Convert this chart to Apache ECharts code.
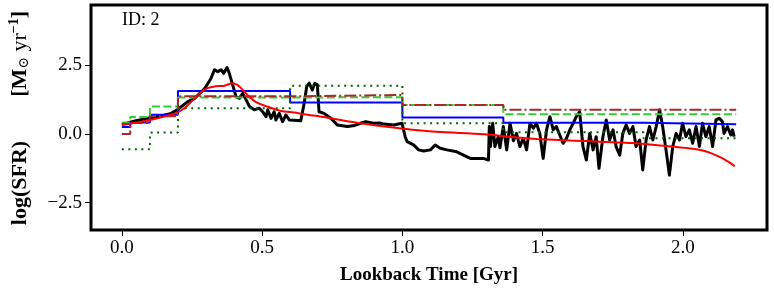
<!DOCTYPE html>
<html>
<head>
<meta charset="utf-8">
<script src="https://cdn.jsdelivr.net/npm/echarts@6/dist/echarts.min.js"></script>
<style>
html,body{margin:0;padding:0;background:#fff;}
#chart{width:774px;height:290px;}
</style>
</head>
<body>
<div id="chart"></div>
<script>
// ---- data ----
const xTicks = [0.0, 0.5, 1.0, 1.5, 2.0];
const yTicks = [-2.5, 0.0, 2.5];

// true SFH (black)
const blackT = [0, 0.05, 0.1, 0.15, 0.176, 0.2, 0.235, 0.26, 0.295, 0.318, 0.33, 0.342, 0.354, 0.363, 0.375, 0.383, 0.395, 0.407, 0.419, 0.431, 0.443, 0.455, 0.472, 0.49, 0.502, 0.514, 0.52, 0.532, 0.543, 0.549, 0.561, 0.573, 0.585, 0.597, 0.614, 0.638, 0.65, 0.659, 0.668, 0.679, 0.688, 0.697, 0.703, 0.721, 0.745, 0.768, 0.804, 0.83, 0.851, 0.869, 0.898, 0.92, 0.934, 0.969, 0.999, 1.01, 1.017, 1.04, 1.058, 1.076, 1.1, 1.117, 1.135, 1.159, 1.194, 1.218, 1.242, 1.265, 1.289, 1.307, 1.31, 1.314, 1.322, 1.33, 1.342, 1.348, 1.36, 1.372, 1.384, 1.396, 1.407, 1.419, 1.431, 1.443, 1.455, 1.467, 1.478, 1.49, 1.502, 1.514, 1.526, 1.538, 1.549, 1.561, 1.573, 1.585, 1.597, 1.609, 1.62, 1.632, 1.644, 1.656, 1.668, 1.68, 1.691, 1.701, 1.715, 1.727, 1.739, 1.751, 1.762, 1.775, 1.786, 1.798, 1.81, 1.822, 1.833, 1.846, 1.857, 1.869, 1.881, 1.893, 1.905, 1.917, 1.928, 1.94, 1.952, 1.964, 1.976, 1.988, 1.999, 2.011, 2.023, 2.035, 2.047, 2.059, 2.07, 2.082, 2.094, 2.106, 2.118, 2.13, 2.141, 2.147, 2.159, 2.171, 2.177, 2.183];
const blackV = [0.35, 0.48, 0.58, 0.68, 0.75, 0.9, 1.18, 1.3, 1.65, 2.03, 2.34, 2.27, 2.34, 2.21, 2.42, 2.21, 1.79, 1.36, 1.3, 1.48, 1.24, 1.0, 0.88, 0.94, 0.81, 0.63, 0.88, 0.57, 0.81, 0.51, 0.75, 0.45, 0.69, 0.51, 0.5, 0.48, 1.12, 1.73, 1.85, 1.6, 1.85, 1.79, 0.81, 0.75, 0.57, 0.33, 0.27, 0.31, 0.39, 0.45, 0.39, 0.4, 0.36, 0.33, 0.39, -0.1, -0.28, -0.4, -0.58, -0.62, -0.58, -0.4, -0.52, -0.58, -0.65, -0.77, -0.89, -0.89, -0.89, -0.95, 0.27, -0.46, 0.39, -0.46, -0.1, -0.5, 0.27, -0.58, 0.39, -0.25, 0.02, -0.46, -0.16, -0.58, 0.39, 0.21, 0.39, 0.02, -0.89, 0.15, 0.63, 0.15, 0.27, -0.04, -0.34, -0.16, 0.15, 0.39, 0.63, 0.81, -0.46, -0.95, 0.02, -0.58, -0.1, -1.25, -0.1, 0.51, -0.22, 0.15, -0.46, -0.77, 0.02, 0.33, 0.02, 0.27, -0.46, -0.22, -1.31, -0.22, 0.27, -0.22, 0.27, 0.88, 0.27, -0.58, -1.5, -0.46, 0.02, -0.22, 0.39, -0.1, 0.15, -0.34, 0.27, -0.46, 0.39, -0.1, 0.27, -0.46, 0.51, 0.57, 0.45, 0.02, 0.27, -0.04, 0.15, -0.1];

// smooth fit (red)
const redT = [0, 0.1, 0.19, 0.22, 0.25, 0.28, 0.305, 0.335, 0.366, 0.395, 0.41, 0.425, 0.455, 0.48, 0.51, 0.567, 0.614, 0.65, 0.73, 0.85, 1.005, 1.12, 1.29, 1.4, 1.48, 1.6, 1.82, 1.93, 2.02, 2.07, 2.1, 2.14, 2.16, 2.185];
const redV = [0.33, 0.51, 0.75, 0.92, 1.2, 1.5, 1.67, 1.74, 1.76, 1.85, 1.8, 1.67, 1.35, 1.15, 1.03, 0.84, 0.78, 0.72, 0.6, 0.39, 0.19, 0.08, -0.01, -0.12, -0.18, -0.24, -0.33, -0.43, -0.52, -0.6, -0.7, -0.88, -1.0, -1.17];

// binned SFH estimates (step series), bin edges in Gyr
const binEdges = [0, 0.03, 0.1, 0.2, 0.6, 1.0, 1.36, 1.86, 2.19];
const blueV  = [0.25, 0.42, 0.7, 1.57, 1.15, 0.6, 0.41, 0.35];
const greenV = [0.42, 0.62, 1.0, 1.33, 1.34, 1.06, 0.72, 0.72];
const brownV = [0.0, 0.4, 0.65, 1.37, 1.42, 1.06, 0.88, 0.88];
const dotV   = [-0.56, -0.56, 0.05, 0.94, 1.76, 0.39, 0.06, -0.16];

function pairs(xs, ys){ return xs.map((x,i)=>[x, ys[i]]); }
function steps(vals){
  const d = vals.map((v,i)=>[binEdges[i], v]);
  d.push([binEdges[binEdges.length-1], vals[vals.length-1]]);
  return d;
}

const FONT = 'Liberation Serif';
const chart = echarts.init(document.getElementById('chart'), null, {renderer:'canvas'});

function stepSeries(vals, color, type, z){
  return {type:'line', step:'end', data:steps(vals), symbol:'none', z:z,
    lineStyle:{color:color, width:2, type:type, cap:'butt'}, animation:false};
}

chart.setOption({
  animation:false,
  backgroundColor:'#fff',
  grid:{left:91, right:7, top:5, bottom:60, show:true, borderColor:'#000', borderWidth:3, backgroundColor:'transparent'},
  xAxis:{type:'value', min:-0.11, max:2.30,
    axisLine:{show:false, onZero:false}, splitLine:{show:false},
    axisTick:{show:true, length:6, lineStyle:{color:'#000', width:1}, customValues:xTicks, inside:false},
    axisLabel:{customValues:xTicks, color:'#000', fontFamily:FONT, fontSize:19, margin:9, formatter:v=>v.toFixed(1)},
    name:'Lookback Time [Gyr]', nameLocation:'middle', nameGap:36,
    nameTextStyle:{color:'#000', fontFamily:FONT, fontSize:19, fontWeight:'bold'}
  },
  yAxis:{type:'value', min:-3.5, max:4.7,
    axisLine:{show:false, onZero:false}, splitLine:{show:false},
    axisTick:{show:true, length:6, lineStyle:{color:'#000', width:1}, customValues:yTicks},
    axisLabel:{customValues:yTicks, color:'#000', fontFamily:FONT, fontSize:19, margin:9,
      formatter:v=> (v<0?'\u2212':'') + Math.abs(v).toFixed(1)}
  },
  graphic:[
    {type:'text', left:122, top:11, style:{text:'ID: 2', font:'18px "Liberation Serif"', fill:'#000'}},
    {type:'text', x:20, y:118, rotation:Math.PI/2,
      style:{
        text:'{b|log(SFR)}{n|        }{b|[M}{s|\u2299}{n| yr}{sup|\u22121}{b|]}',
        align:'center', verticalAlign:'middle',
        rich:{
          b:{font:'bold 22px "Liberation Serif"', fill:'#000'},
          n:{font:'22px "Liberation Serif"', fill:'#000'},
          s:{font:'14px "DejaVu Serif"', fill:'#000', padding:[9,0,0,0]},
          sup:{font:'bold 14px "Liberation Serif"', fill:'#000', padding:[0,0,11,0]}
        }
      }}
  ],
  series:[
    {type:'line', data:pairs(blackT, blackV), symbol:'none', z:2,
      lineStyle:{color:'#000', width:3, join:'round'}, animation:false},
    stepSeries(blueV, '#0000ff', 'solid', 3),
    stepSeries(greenV, '#32cd32', [8,3.5], 3),
    stepSeries(brownV, '#a52a2a', [12,3,2,3], 3),
    stepSeries(dotV, '#006400', [2,4.5], 3),
    {type:'line', data:pairs(redT, redV), symbol:'none', smooth:0.3, z:4,
      lineStyle:{color:'#ff0000', width:2}, animation:false}
  ]
});
</script>
</body>
</html>
